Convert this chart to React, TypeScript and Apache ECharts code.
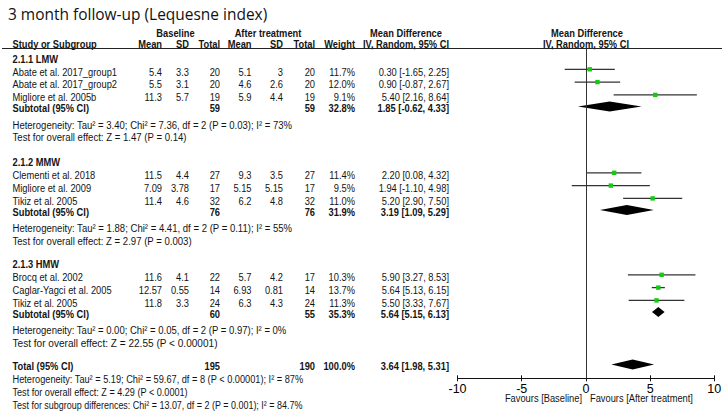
import React, { useEffect, useRef } from "react";
import * as echarts from "echarts";

// ---------- data ----------
const groupLabels = ["2.1.1 LMW", "2.1.2 MMW", "2.1.3 HMW"];
const studyGroup = [0, 0, 0, 1, 1, 1, 2, 2, 2];
const studyNames = [
  "Abate et al. 2017_group1",
  "Abate et al. 2017_group2",
  "Migliore et al. 2005b",
  "Clementi et al. 2018",
  "Migliore et al. 2009",
  "Tikiz et al. 2005",
  "Brocq et al. 2002",
  "Caglar-Yagci et al. 2005",
  "Tikiz et al. 2005",
];
const baseMean = ["5.4", "5.5", "11.3", "11.5", "7.09", "11.4", "11.6", "12.57", "11.8"];
const baseSD = ["3.3", "3.1", "5.7", "4.4", "3.78", "4.6", "4.1", "0.55", "3.3"];
const baseN = [20, 20, 19, 27, 17, 32, 22, 14, 24];
const afterMean = ["5.1", "4.6", "5.9", "9.3", "5.15", "6.2", "5.7", "6.93", "6.3"];
const afterSD = ["3", "2.6", "4.4", "3.5", "5.15", "4.8", "4.2", "0.81", "4.3"];
const afterN = [20, 20, 19, 27, 17, 32, 17, 14, 24];
const weights = [11.7, 12.0, 9.1, 11.4, 9.5, 11.0, 10.3, 13.7, 11.3];
const md = [0.3, 0.9, 5.4, 2.2, 1.94, 5.2, 5.9, 5.64, 5.5];
const ciLow = [-1.65, -0.87, 2.16, 0.08, -1.1, 2.9, 3.27, 5.13, 3.33];
const ciHigh = [2.25, 2.67, 8.64, 4.32, 4.98, 7.5, 8.53, 6.15, 7.67];

const subBaseN = [59, 76, 60];
const subAfterN = [59, 76, 55];
const subWeight = [32.8, 31.9, 35.3];
const subMd = [1.85, 3.19, 5.64];
const subLow = [-0.62, 1.09, 5.15];
const subHigh = [4.33, 5.29, 6.13];
const hetTexts = [
  "Heterogeneity: Tau² = 3.40; Chi² = 7.36, df = 2 (P = 0.03); I² = 73%",
  "Heterogeneity: Tau² = 1.88; Chi² = 4.41, df = 2 (P = 0.11); I² = 55%",
  "Heterogeneity: Tau² = 0.00; Chi² = 0.05, df = 2 (P = 0.97); I² = 0%",
];
const effectTexts = [
  "Test for overall effect: Z = 1.47 (P = 0.14)",
  "Test for overall effect: Z = 2.97 (P = 0.003)",
  "Test for overall effect: Z = 22.55 (P < 0.00001)",
];
const totalBaseN = 195;
const totalAfterN = 190;
const totalWeight = 100.0;
const totalMd = 3.64;
const totalLow = 1.98;
const totalHigh = 5.31;
const totalNotes = [
  "Heterogeneity: Tau² = 5.19; Chi² = 59.67, df = 8 (P < 0.00001); I² = 87%",
  "Test for overall effect: Z = 4.29 (P < 0.0001)",
  "Test for subgroup differences: Chi² = 13.07, df = 2 (P = 0.001); I² = 84.7%",
];
const axisMin = -10;
const axisMax = 10;
const axisStep = 5;
const title = "3 month follow-up (Lequesne index)";
const favourLeft = "Favours [Baseline]";
const favourRight = "Favours [After treatment]";

// ---------- layout ----------
const GROUP_TOP = [59, 162.5, 264.5];
const ROW_H = 12.8;
const SUB_OFF = 49.5;
const HET_OFF = 65.5;
const TEST_OFF = 78;
const TOTAL_Y = 366.5;
const MARK_SHIFT = -2.5;
const SX = 0.81;
const FONT_SIZE = 11.5;
const FAMILY = '"Liberation Sans", Arial, sans-serif';
const TEXT_COLOR = "#141414";
const COL = { name: 12.5, bMean: 162, bSD: 189, bN: 220, aMean: 251.5, aSD: 283, aN: 315, w: 355, ci: 449 };
// right ends of note lines as seen in the reference
const HET_END = [293, 293, 287];
const TEST_END = [187, 192, 218];
const TOTAL_NOTE_END = [304, 188, 286];

const fmtCI = (m: number, l: number, h: number) => `${m.toFixed(2)} [${l.toFixed(2)}, ${h.toFixed(2)}]`;

let measureCtx: CanvasRenderingContext2D | null = null;
function fitScale(text: string, x0: number, x1: number) {
  if (!measureCtx) measureCtx = document.createElement("canvas").getContext("2d");
  if (!measureCtx) return SX;
  measureCtx.font = `${FONT_SIZE}px ${FAMILY}`;
  const w = measureCtx.measureText(text).width;
  if (!w) return SX;
  const s = (x1 - x0) / w;
  return Math.max(0.78, Math.min(0.95, s));
}

function studyY(i: number) {
  const g = studyGroup[i];
  let k = 0;
  for (let j = 0; j < i; j++) if (studyGroup[j] === g) k++;
  return GROUP_TOP[g] + ROW_H * (k + 1);
}

type TOpts = { bold?: boolean; align?: string; size?: number; family?: string; sx?: number; color?: string };
function T(text: string, x: number, y: number, o: TOpts = {}) {
  const align = o.align || "left";
  const family = o.family || FAMILY;
  return {
    type: "text",
    x,
    y,
    scaleX: o.sx ?? SX,
    silent: true,
    style: {
      text,
      fill: o.color || TEXT_COLOR,
      font: `${o.bold ? "bold " : ""}${o.size ?? FONT_SIZE}px ${family}`,
      align,
      textAlign: align,
      verticalAlign: "middle",
      textVerticalAlign: "middle",
    },
  };
}

function buildGraphics() {
  const g: any[] = [];
  g.push(T(title, 8, 14, { size: 17, family: '"Open Sans", "Noto Sans", sans-serif', sx: 0.91, color: "#111" }));
  g.push(T("Baseline", 175.5, 33, { bold: true, align: "center" }));
  g.push(T("After treatment", 268, 33, { bold: true, align: "center" }));
  g.push(T("Mean Difference", 406, 33, { bold: true, align: "center" }));
  g.push(T("Mean Difference", 587, 33, { bold: true, align: "center" }));
  const hy = 44;
  g.push(T("Study or Subgroup", COL.name, hy, { bold: true }));
  g.push(T("Mean", COL.bMean, hy, { bold: true, align: "right" }));
  g.push(T("SD", COL.bSD, hy, { bold: true, align: "right" }));
  g.push(T("Total", COL.bN, hy, { bold: true, align: "right" }));
  g.push(T("Mean", COL.aMean, hy, { bold: true, align: "right" }));
  g.push(T("SD", COL.aSD, hy, { bold: true, align: "right" }));
  g.push(T("Total", COL.aN, hy, { bold: true, align: "right" }));
  g.push(T("Weight", COL.w, hy, { bold: true, align: "right" }));
  g.push(T("IV, Random, 95% CI", 406, hy, { bold: true, align: "center" }));
  g.push(T("IV, Random, 95% CI", 586, hy, { bold: true, align: "center" }));
  g.push({ type: "line", silent: true, shape: { x1: 2, y1: 48.5, x2: 722, y2: 48.5 }, style: { stroke: "#222", lineWidth: 1 } });

  groupLabels.forEach((lab, gi) => {
    const top = GROUP_TOP[gi];
    g.push(T(lab, COL.name, top, { bold: true }));
    const sy = top + SUB_OFF;
    g.push(T("Subtotal (95% CI)", COL.name, sy, { bold: true }));
    g.push(T(String(subBaseN[gi]), COL.bN, sy, { bold: true, align: "right" }));
    g.push(T(String(subAfterN[gi]), COL.aN, sy, { bold: true, align: "right" }));
    g.push(T(subWeight[gi].toFixed(1) + "%", COL.w, sy, { bold: true, align: "right" }));
    g.push(T(fmtCI(subMd[gi], subLow[gi], subHigh[gi]), COL.ci, sy, { bold: true, align: "right" }));
    g.push(T(hetTexts[gi], COL.name, top + HET_OFF, { sx: fitScale(hetTexts[gi], COL.name, HET_END[gi]) }));
    g.push(T(effectTexts[gi], COL.name, top + TEST_OFF, { sx: fitScale(effectTexts[gi], COL.name, TEST_END[gi]) }));
  });

  studyNames.forEach((name, i) => {
    const y = studyY(i);
    g.push(T(name, COL.name, y));
    g.push(T(baseMean[i], COL.bMean, y, { align: "right" }));
    g.push(T(baseSD[i], COL.bSD, y, { align: "right" }));
    g.push(T(String(baseN[i]), COL.bN, y, { align: "right" }));
    g.push(T(afterMean[i], COL.aMean, y, { align: "right" }));
    g.push(T(afterSD[i], COL.aSD, y, { align: "right" }));
    g.push(T(String(afterN[i]), COL.aN, y, { align: "right" }));
    g.push(T(weights[i].toFixed(1) + "%", COL.w, y, { align: "right" }));
    g.push(T(fmtCI(md[i], ciLow[i], ciHigh[i]), COL.ci, y, { align: "right" }));
  });

  g.push(T("Total (95% CI)", COL.name, TOTAL_Y, { bold: true }));
  g.push(T(String(totalBaseN), COL.bN, TOTAL_Y, { bold: true, align: "right" }));
  g.push(T(String(totalAfterN), COL.aN, TOTAL_Y, { bold: true, align: "right" }));
  g.push(T(totalWeight.toFixed(1) + "%", COL.w, TOTAL_Y, { bold: true, align: "right" }));
  g.push(T(fmtCI(totalMd, totalLow, totalHigh), COL.ci, TOTAL_Y, { bold: true, align: "right" }));
  totalNotes.forEach((t, k) =>
    g.push(T(t, COL.name, TOTAL_Y + 12.8 * (k + 1), { sx: fitScale(t, COL.name, TOTAL_NOTE_END[k]) }))
  );

  g.push(T(favourLeft, 582, 398, { align: "right" }));
  g.push(T(favourRight, 590, 398, { align: "left" }));
  return g;
}

export default function App() {
  const ref = useRef<HTMLDivElement>(null);
  useEffect(() => {
    if (!ref.current) return;
    const chart = echarts.init(ref.current, undefined, { renderer: "svg" });

    const studyData = md.map((m, i) => [m, ciLow[i], ciHigh[i], studyY(i) + MARK_SHIFT]);
    const diamondData = subMd.map((m, gi) => [m, subLow[gi], subHigh[gi], GROUP_TOP[gi] + SUB_OFF + MARK_SHIFT + 0.5]);
    diamondData.push([totalMd, totalLow, totalHigh, TOTAL_Y + MARK_SHIFT + 0.5]);

    chart.setOption({
      animation: false,
      backgroundColor: "#ffffff",
      grid: { left: 457.5, right: 10.7, top: 48.5, bottom: 36.7, containLabel: false },
      xAxis: [
        {
          type: "value",
          min: axisMin,
          max: axisMax,
          interval: axisStep,
          axisLine: { show: true, onZero: false, lineStyle: { color: "#111", width: 1 } },
          axisTick: { show: true, length: 3, lineStyle: { color: "#111", width: 1 } },
          axisLabel: { margin: 4, color: "#000", fontSize: 12.5, fontFamily: FAMILY },
          splitLine: { show: false },
        },
        {
          type: "value",
          position: "bottom",
          min: axisMin,
          max: axisMax,
          interval: axisStep,
          axisLine: { show: false },
          axisTick: { show: true, inside: true, length: 3, lineStyle: { color: "#111", width: 1 } },
          axisLabel: { show: false },
          splitLine: { show: false },
        },
      ],
      yAxis: { type: "value", min: 48.5, max: 378.3, inverse: true, show: false },
      series: [
        {
          type: "custom",
          xAxisIndex: 0,
          clip: false,
          data: studyData,
          renderItem: (params: any, api: any) => {
            const y = api.value(3);
            const p = api.coord([api.value(0), y]);
            const l = api.coord([api.value(1), y]);
            const h = api.coord([api.value(2), y]);
            return {
              type: "group",
              children: [
                { type: "line", shape: { x1: l[0], y1: l[1], x2: h[0], y2: h[1] }, style: { stroke: "#333", lineWidth: 1.3 } },
                { type: "rect", shape: { x: p[0] - 2.2, y: p[1] - 2.2, width: 4.4, height: 4.4 }, style: { fill: "#11cc11" } },
              ],
            };
          },
          markLine: {
            silent: true,
            symbol: "none",
            label: { show: false },
            lineStyle: { color: "#333", width: 1, type: "solid" },
            data: [{ xAxis: 0 }],
          },
        },
        {
          type: "custom",
          xAxisIndex: 0,
          clip: false,
          data: diamondData,
          renderItem: (params: any, api: any) => {
            const y = api.value(3);
            const p = api.coord([api.value(0), y]);
            const l = api.coord([api.value(1), y]);
            const h = api.coord([api.value(2), y]);
            const hh = 5;
            return {
              type: "polygon",
              shape: { points: [[l[0], l[1]], [p[0], p[1] - hh], [h[0], h[1]], [p[0], p[1] + hh]] },
              style: { fill: "#000" },
            };
          },
        },
      ],
      graphic: buildGraphics(),
    });
    return () => chart.dispose();
  }, []);
  return <div ref={ref} style={{ position: "fixed", left: 0, top: 0, width: 725, height: 415, background: "#fff" }} />;
}
